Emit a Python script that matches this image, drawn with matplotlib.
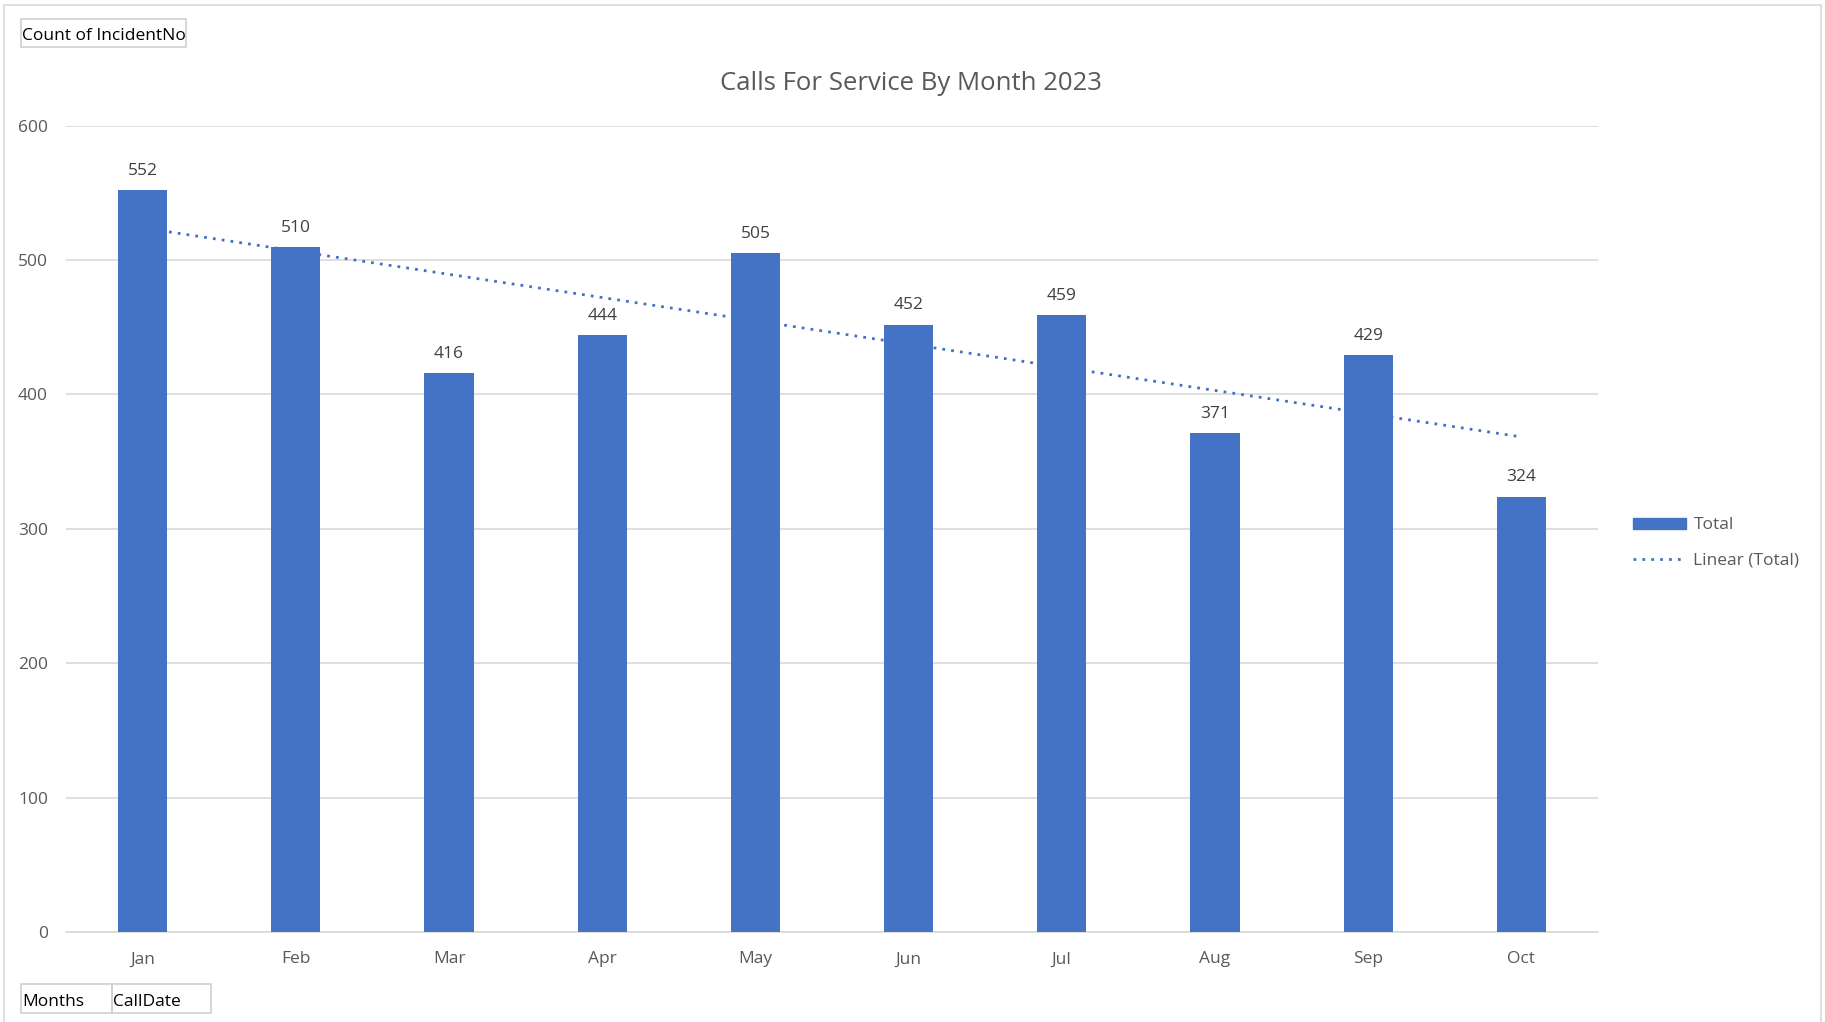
import numpy as np
import matplotlib
matplotlib.use("Agg")
import matplotlib.pyplot as plt
from matplotlib.patches import Rectangle
from matplotlib.lines import Line2D

months = ["Jan", "Feb", "Mar", "Apr", "May", "Jun", "Jul", "Aug", "Sep", "Oct"]
totals = [552, 510, 416, 444, 505, 452, 459, 371, 429, 324]
y_ticks = [0, 100, 200, 300, 400, 500, 600]

BAR = "#4472C4"
GRID = "#D9D9D9"
TXT = "#595959"

plt.rcParams["font.family"] = ["Open Sans", "DejaVu Sans"]

W, H = 1825, 1022
fig = plt.figure(figsize=(W / 100, H / 100), dpi=100)

# outer chart border
fig.patches.append(Rectangle((4 / W, -0.01), (1821 - 4) / W, 1.01 - 5 / H, transform=fig.transFigure,
                             fill=False, edgecolor="#D9D9D9", linewidth=1.2))

ax = fig.add_axes([66 / W, 1 - 932 / H, (1598 - 66) / W, (932 - 125.7) / H])
x = np.arange(len(months))
ax.bar(x, totals, width=0.32, color=BAR, zorder=3, label="Total")

# linear trend like Excel's, sits behind the bars
coef = np.polyfit(x, totals, 1)
trend = np.polyval(coef, x)
ax.plot(x, trend, linestyle=(0, (1, 2.2)), color=BAR, linewidth=2, zorder=2, label="Linear (Total)")

for xi, v in zip(x, totals):
    ax.annotate(str(v), (xi, v), xytext=(0, 8), textcoords="offset points",
                ha="center", va="bottom", fontsize=12.5, color="#404040")

ax.set_xlim(-0.5, len(months) - 0.5)
ax.set_ylim(0, 600)
ax.set_yticks(y_ticks)
ax.set_xticks(x)
ax.set_xticklabels(months)
ax.grid(axis="y", color=GRID, linewidth=1.2, zorder=0)
for s in ["top", "right", "left"]:
    ax.spines[s].set_visible(False)
ax.spines["bottom"].set_color(GRID)
ax.spines["bottom"].set_linewidth(1.2)
ax.tick_params(axis="both", length=0, labelsize=12.5, labelcolor=TXT)
ax.tick_params(axis="y", pad=13)
ax.tick_params(axis="x", pad=14)

fig.text(911 / W, 1 - 83 / H, "Calls For Service By Month 2023", ha="center", va="center",
         fontsize=18.5, color=TXT)

handles = [Rectangle((0, 0), 1, 1, color=BAR),
           Line2D([0], [0], color=BAR, linestyle=(0, (1, 2.2)), linewidth=2)]
fig.legend(handles, ["Total", "Linear (Total)"], loc="center left",
           bbox_to_anchor=(1617 / W, 1 - 543 / H), frameon=False, fontsize=12.5,
           labelcolor=TXT, handlelength=3.1, handleheight=0.6, handletextpad=0.4, labelspacing=1.1)


def button(x0, y0, x1, y1, text):
    fig.patches.append(Rectangle((x0 / W, 1 - y1 / H), (x1 - x0) / W, (y1 - y0) / H,
                                 transform=fig.transFigure, fill=False,
                                 edgecolor="#D0D0D0", linewidth=1.2))
    fig.text((x0 + 1) / W, 1 - ((y0 + y1) / 2 + 3) / H, text, ha="left", va="center",
             fontsize=12.5, color="black")


button(21, 19, 186, 47, "Count of IncidentNo")
button(21, 984, 112, 1013, "Months")
button(112, 984, 211, 1013, "CallDate")

fig.savefig("out.png", dpi=100)
